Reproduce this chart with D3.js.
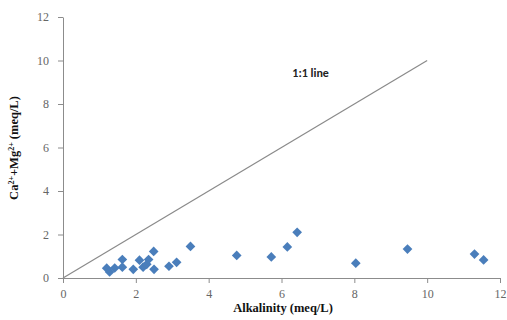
<!DOCTYPE html>
<html><head><meta charset="utf-8">
<script src="https://cdn.jsdelivr.net/npm/d3@7"></script>
<style>body{margin:0;background:#fff}svg{display:block}</style>
</head><body>
<svg id="c" width="507" height="320"></svg>
<script>
const alkalinity = [1.2,1.28,1.42,1.63,1.63,1.93,2.1,2.2,2.3,2.35,2.5,2.49,2.91,3.12,3.5,4.77,5.72,6.16,6.43,8.04,9.46,11.3,11.55];
const caMg      = [0.45,0.28,0.46,0.85,0.5,0.4,0.82,0.5,0.63,0.85,0.4,1.22,0.54,0.72,1.45,1.04,0.97,1.43,2.1,0.68,1.33,1.1,0.83];
const xTicks = [0,2,4,6,8,10,12];
const yTicks = [0,2,4,6,8,10,12];
const lineEnds = [0,10];

const svg = d3.select('#c');
const x = d3.scaleLinear().domain([0,12]).range([63,500]);
const y = d3.scaleLinear().domain([0,12]).range([278,17]);
const axisColor = '#8c8c8c';

const gx = svg.append('g').attr('transform','translate(0,278)')
  .call(d3.axisBottom(x).tickValues(xTicks).tickSize(5).tickSizeOuter(0).tickPadding(6));
const gy = svg.append('g').attr('transform','translate(63,0)')
  .call(d3.axisLeft(y).tickValues(yTicks).tickSize(5).tickSizeOuter(0).tickPadding(9));
[gx,gy].forEach(g=>{
  g.select('.domain').attr('stroke',axisColor);
  g.selectAll('.tick line').attr('stroke',axisColor);
  g.selectAll('.tick text').attr('fill','#666').attr('font-family','"Liberation Serif",serif').attr('font-size',12);
});

svg.append('line')
  .attr('x1',x(lineEnds[0])).attr('y1',y(lineEnds[0]))
  .attr('x2',x(lineEnds[1])).attr('y2',y(lineEnds[1]))
  .attr('stroke','#8a8a8a').attr('stroke-width',1.2);

const data = alkalinity.map((a,i)=>({a, c: caMg[i]}));
const diamond = d3.symbol().type(d3.symbolDiamond2).size(60);
svg.append('g').selectAll('path').data(data).join('path')
  .attr('d', diamond)
  .attr('transform', d=>`translate(${x(d.a)},${y(d.c)})`)
  .attr('fill','#4a7ebb');

svg.append('text').attr('x',x(6.8)).attr('y',y(9.25)).attr('text-anchor','middle')
  .attr('font-family','Carlito,"Liberation Sans",sans-serif').attr('font-weight','bold')
  .attr('font-size',12).attr('fill','#222').text('1:1 line');

svg.append('text').attr('x',283).attr('y',312).attr('text-anchor','middle')
  .attr('font-family','"Liberation Serif",serif').attr('font-weight','bold')
  .attr('font-size',12.5).attr('fill','#111').text('Alkalinity (meq/L)');

const yt = svg.append('text').attr('transform','translate(18,148) rotate(-90)').attr('text-anchor','middle')
  .attr('font-family','"Liberation Serif",serif').attr('font-weight','bold')
  .attr('font-size',12.5).attr('fill','#111');
yt.append('tspan').text('Ca');
yt.append('tspan').attr('dy',-4).attr('font-size',8).text('2+');
yt.append('tspan').attr('dy',4).text('+Mg');
yt.append('tspan').attr('dy',-4).attr('font-size',8).text('2+');
yt.append('tspan').attr('dy',4).text(' (meq/L)');
</script>
</body></html>
